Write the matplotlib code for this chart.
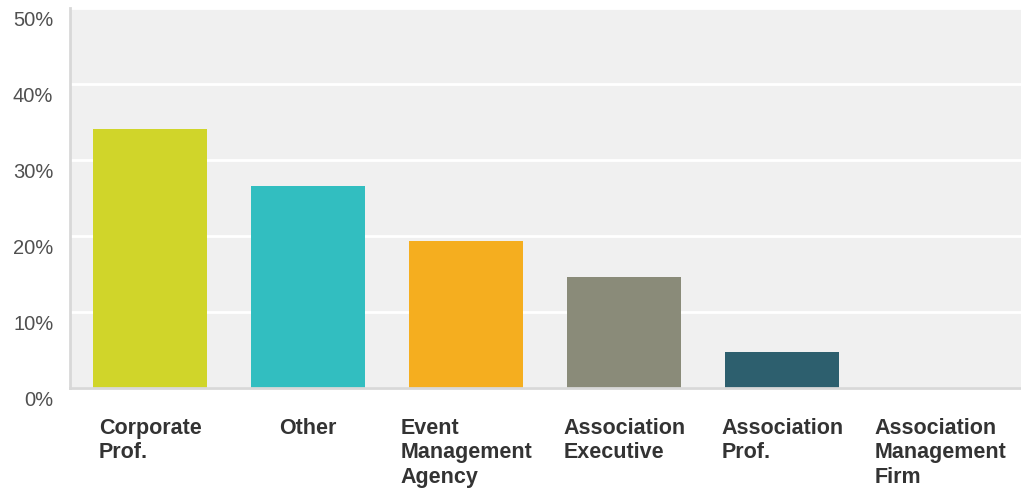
import matplotlib
matplotlib.use("Agg")
import matplotlib.pyplot as plt
import matplotlib.transforms as mtransforms

categories = ["Corporate\nProf.", "Other", "Event\nManagement\nAgency",
              "Association\nExecutive", "Association\nProf.",
              "Association\nManagement\nFirm"]
values = [34.1, 26.6, 19.3, 14.6, 4.8, 0.0]
colors = ["#d0d52a", "#32bec0", "#f5ae1f", "#8a8b79", "#2d5f6e", "#999999"]
yticks = [0, 10, 20, 30, 40, 50]
ytick_labels = ["0%", "10%", "20%", "30%", "40%", "50%"]

plt.rcParams["font.family"] = ["Liberation Sans", "DejaVu Sans"]

fig = plt.figure(figsize=(10.21, 4.89), dpi=100)
ax = fig.add_axes([70 / 1021, (489 - 389) / 489, (1021 - 70) / 1021, (389 - 9) / 489])
ax.set_facecolor("#f0f0f0")

bar_w = 0.72
xs = list(range(len(categories)))
ax.bar(xs, values, width=bar_w, color=colors, zorder=3)

ax.set_xlim(-0.5 - 0.007, len(categories) - 0.5 + 0.01)
ax.set_ylim(0, 50)

ax.set_yticks(yticks)
ax.set_yticklabels(ytick_labels, fontsize=14.5, color="#505050")
ax.yaxis.grid(True, color="white", linewidth=2, zorder=1)
ax.tick_params(axis="y", length=0, pad=12)
shift = mtransforms.ScaledTranslation(0, -10 / 100, fig.dpi_scale_trans)
for lab in ax.get_yticklabels():
    lab.set_transform(lab.get_transform() + shift)

ax.set_xticks(xs)
ax.set_xticklabels(categories, fontsize=15.5, fontweight="bold", color="#333333",
                   ha="center", multialignment="left", linespacing=1.2)
ax.tick_params(axis="x", length=0, pad=21)

for side in ("top", "right"):
    ax.spines[side].set_visible(False)
for side in ("left", "bottom"):
    ax.spines[side].set_color("#d8d8d8")
    ax.spines[side].set_linewidth(2)
    ax.spines[side].set_zorder(4)

fig.savefig("out.png", dpi=100, facecolor="white")
